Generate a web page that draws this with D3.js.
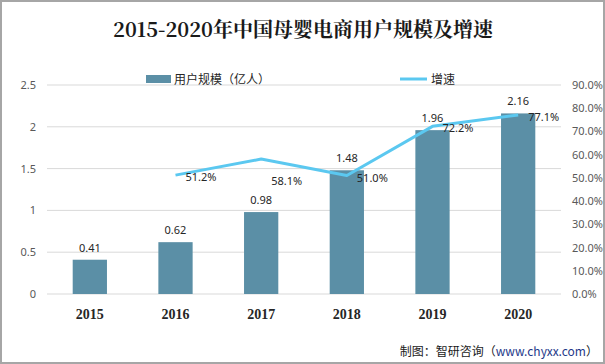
<!DOCTYPE html>
<html><head><meta charset="utf-8">
<script src="https://cdn.jsdelivr.net/npm/d3@7"></script>
<style>html,body{margin:0;padding:0;background:#fff;}svg{display:block;}</style>
</head><body>
<script>
const years = ["2015","2016","2017","2018","2019","2020"];
const users = [0.41, 0.62, 0.98, 1.48, 1.96, 2.16];
const growthYears = ["2016","2017","2018","2019","2020"];
const growth = [51.2, 58.1, 51.0, 72.2, 77.1];
const leftTicks = [0, 0.5, 1, 1.5, 2, 2.5];
const rightTicks = [0,10,20,30,40,50,60,70,80,90];
const title = "2015-2020年中国母婴电商用户规模及增速";
const legendBar = "用户规模（亿人）";
const legendLine = "增速";

const W = 605, H = 364;
const svg = d3.select("body").append("svg").attr("width", W).attr("height", H);
svg.append("rect").attr("x",1).attr("y",1).attr("width",W-2).attr("height",H-2)
  .attr("fill","#fff").attr("stroke","#a6a6a6").attr("stroke-width",2);

const x = d3.scaleBand().domain(years).range([47, 561]).paddingInner(0.6).paddingOuter(0.3);
const yL = d3.scaleLinear().domain([0, 2.5]).range([294, 85]);
const yR = d3.scaleLinear().domain([0, 90]).range([294, 85]);

// gridlines
svg.append("g").selectAll("line").data(leftTicks).join("line")
  .attr("x1", 47).attr("x2", 561).attr("y1", d => yL(d)).attr("y2", d => yL(d))
  .attr("stroke", "#d9d9d9").attr("stroke-width", 1);

// left axis
const axL = svg.append("g").attr("transform", "translate(40,0)")
  .call(d3.axisLeft(yL).tickValues(leftTicks).tickSize(0).tickPadding(4).tickFormat(d => String(d)));
axL.select(".domain").remove();
axL.selectAll("text").attr("fill", "#595959").style("font-family", "'Noto Sans', sans-serif").style("font-size", "11px");

// right axis
const axR = svg.append("g").attr("transform", "translate(568,0)")
  .call(d3.axisRight(yR).tickValues(rightTicks).tickSize(0).tickPadding(4).tickFormat(d => d.toFixed(1) + "%"));
axR.select(".domain").remove();
axR.selectAll("text").attr("fill", "#595959").style("font-family", "'Noto Sans', sans-serif").style("font-size", "11px");

// x axis
const axX = svg.append("g").attr("transform", "translate(0,305)")
  .call(d3.axisBottom(x).tickSize(0).tickPadding(4));
axX.select(".domain").remove();
axX.selectAll("text").attr("fill", "#262626").style("font-family", "'Liberation Serif', 'Times New Roman', serif")
  .style("font-weight", "bold").style("font-size", "14px");

// bars
svg.append("g").selectAll("rect").data(years).join("rect")
  .attr("x", d => x(d)).attr("width", x.bandwidth())
  .attr("y", (d,i) => yL(users[i])).attr("height", (d,i) => yL(0) - yL(users[i]))
  .attr("fill", "#5b8fa6");

svg.append("g").selectAll("text").data(years).join("text")
  .attr("x", d => x(d) + x.bandwidth()/2).attr("y", (d,i) => yL(users[i]) - 8)
  .attr("text-anchor", "middle").attr("fill", "#262626")
  .style("font-family", "'Noto Sans', sans-serif").style("font-size", "11px")
  .text((d,i) => users[i].toFixed(2));

// line
const cx = d => x(d) + x.bandwidth()/2;
const line = d3.line().x((d,i) => cx(growthYears[i])).y(d => yR(d));
svg.append("path").datum(growth).attr("d", line)
  .attr("fill", "none").attr("stroke", "#5bc8f0").attr("stroke-width", 3).attr("stroke-linejoin", "round");

svg.append("g").selectAll("text").data(growth).join("text")
  .attr("x", (d,i) => cx(growthYears[i]) + 10)
  .attr("y", (d,i) => yR(d) + (i === 1 ? 26 : 6))
  .attr("fill", "#262626")
  .style("font-family", "'Noto Sans', sans-serif").style("font-size", "11px")
  .text(d => d.toFixed(1) + "%");

// title
svg.append("text").attr("x", 303).attr("y", 37).attr("text-anchor", "middle")
  .attr("fill", "#1a1a1a")
  .style("font-family", "'Noto Serif CJK SC', 'Noto Sans CJK SC', serif").style("font-weight", "bold").style("font-size", "20px")
  .text(title);

// legend
svg.append("rect").attr("x", 146).attr("y", 75).attr("width", 25).attr("height", 8).attr("fill", "#5b8fa6");
svg.append("text").attr("x", 174).attr("y", 84).attr("fill", "#262626")
  .style("font-family", "'Noto Sans CJK SC', sans-serif").style("font-size", "12px").text(legendBar);
svg.append("line").attr("x1", 400).attr("x2", 427).attr("y1", 79).attr("y2", 79)
  .attr("stroke", "#5bc8f0").attr("stroke-width", 3);
svg.append("text").attr("x", 431).attr("y", 84).attr("fill", "#262626")
  .style("font-family", "'Noto Sans CJK SC', sans-serif").style("font-size", "12px").text(legendLine);

// footer
const ft = svg.append("text").attr("x", 598).attr("y", 356).attr("text-anchor", "end")
  .style("font-family", "'Noto Sans CJK SC', sans-serif").style("font-size", "12px").attr("fill", "#1a1a1a");
ft.append("tspan").text("制图：智研咨询（");
ft.append("tspan").attr("fill", "#1f3a8a").text("www.chyxx.com");
ft.append("tspan").text("）");
</script>
</body></html>
